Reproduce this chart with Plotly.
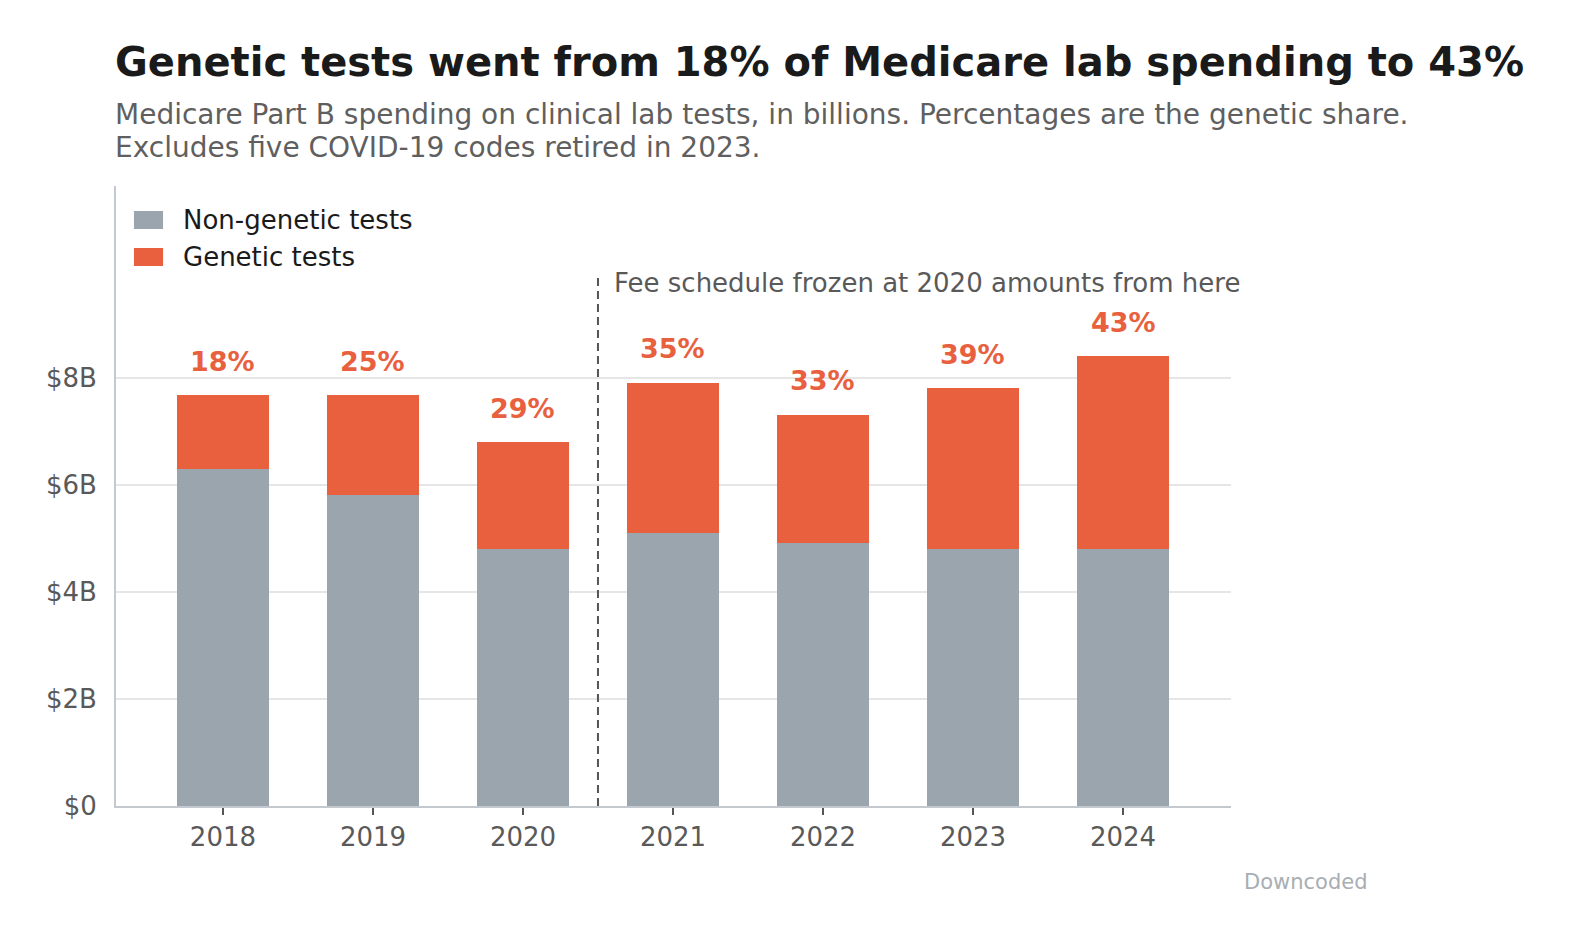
import plotly.graph_objects as go

years = ["2018", "2019", "2020", "2021", "2022", "2023", "2024"]
non_genetic = [6.3, 5.81, 4.8, 5.1, 4.92, 4.8, 4.8]
genetic = [1.38, 1.87, 2.0, 2.81, 2.39, 3.01, 3.61]
genetic_share = ["18%", "25%", "29%", "35%", "33%", "39%", "43%"]
y_ticks = [0, 2, 4, 6, 8]
y_tick_labels = ["$0", "$2B", "$4B", "$6B", "$8B"]
series_names = ["Non-genetic tests", "Genetic tests"]

GRAY = "#9ba5ad"
ORANGE = "#e8603e"
FONT = "DejaVu Sans"

fig = go.Figure()
fig.add_trace(go.Bar(x=years, y=non_genetic, name=series_names[0],
                     marker=dict(color=GRAY, line=dict(width=0)), width=0.613))
fig.add_trace(go.Bar(x=years, y=genetic, name=series_names[1],
                     marker=dict(color=ORANGE, line=dict(width=0)), width=0.613))

# share labels above each stack
for i, (a, b, s) in enumerate(zip(non_genetic, genetic, genetic_share)):
    fig.add_annotation(x=i, y=a + b, text="<b>" + s + "</b>", showarrow=False,
                       yanchor="middle", yshift=34,
                       font=dict(family=FONT, size=27, color=ORANGE))

# fee schedule freeze marker
fig.add_shape(type="line", xref="x", yref="y", x0=2.5, x1=2.5, y0=0, y1=9.88,
              line=dict(color="#555555", width=2, dash="8px,5px"))
fig.add_annotation(x=2.5, y=9.88, text="Fee schedule frozen at 2020 amounts from here",
                   showarrow=False, xanchor="left", yanchor="middle", xshift=14, yshift=-6,
                   font=dict(family=FONT, size=26, color="#595959"))

# title and subtitle
fig.add_annotation(xref="paper", yref="paper", x=0, y=1.2, xshift=-3,
                   text="<b>Genetic tests went from 18% of Medicare lab spending to 43%</b>",
                   showarrow=False, xanchor="left", yanchor="middle",
                   font=dict(family=FONT, size=40, color="#1a1a1a"))
fig.add_annotation(xref="paper", yref="paper", x=0, y=1.116, xshift=-3,
                   text="Medicare Part B spending on clinical lab tests, in billions. Percentages are the genetic share.",
                   showarrow=False, xanchor="left", yanchor="middle",
                   font=dict(family=FONT, size=28, color="#5f5f5f"))
fig.add_annotation(xref="paper", yref="paper", x=0, y=1.0629, xshift=-3,
                   text="Excludes five COVID-19 codes retired in 2023.",
                   showarrow=False, xanchor="left", yanchor="middle",
                   font=dict(family=FONT, size=28, color="#5f5f5f"))

# legend drawn as swatches + labels
swatch_y = [(0.9597, 0.9306), (0.9, 0.871)]
for name, color, (ya, yb) in zip(series_names, [GRAY, ORANGE], swatch_y):
    fig.add_shape(type="rect", xref="paper", yref="paper", x0=0.0161, x1=0.0422,
                  y0=yb, y1=ya, fillcolor=color, line=dict(width=0))
    fig.add_annotation(xref="paper", yref="paper", x=0.061, y=(ya + yb) / 2, xshift=-3,
                       text=name, showarrow=False, xanchor="left", yanchor="middle",
                       font=dict(family=FONT, size=26, color="#1a1a1a"))

fig.add_annotation(xref="paper", yref="paper", x=1.067, y=-0.1226, text="Downcoded",
                   showarrow=False, xanchor="center", yanchor="middle",
                   font=dict(family=FONT, size=21, color="#a8aeb3"))

fig.update_layout(
    width=1569, height=939,
    barmode="stack",
    showlegend=False,
    plot_bgcolor="white", paper_bgcolor="white",
    margin=dict(l=108, r=346, t=178, b=141),
    font=dict(family=FONT, size=26, color="#595959"),
    xaxis=dict(type="category", range=[-0.713, 6.72], showline=True, linecolor="#c3c9cf", linewidth=2,
               ticks="outside", ticklen=7, tickcolor="#555555", tickwidth=2,
               tickfont=dict(size=26, color="#595959"), showgrid=False),
    yaxis=dict(range=[0, 11.59], tickvals=y_ticks, ticktext=y_tick_labels,
               showline=True, linecolor="#c3c9cf", linewidth=2,
               gridcolor="#e6e6e6", gridwidth=2, zeroline=False,
               tickfont=dict(size=26, color="#595959"), ticks="", ticklabelstandoff=12),
)

fig.write_html("out.html")
